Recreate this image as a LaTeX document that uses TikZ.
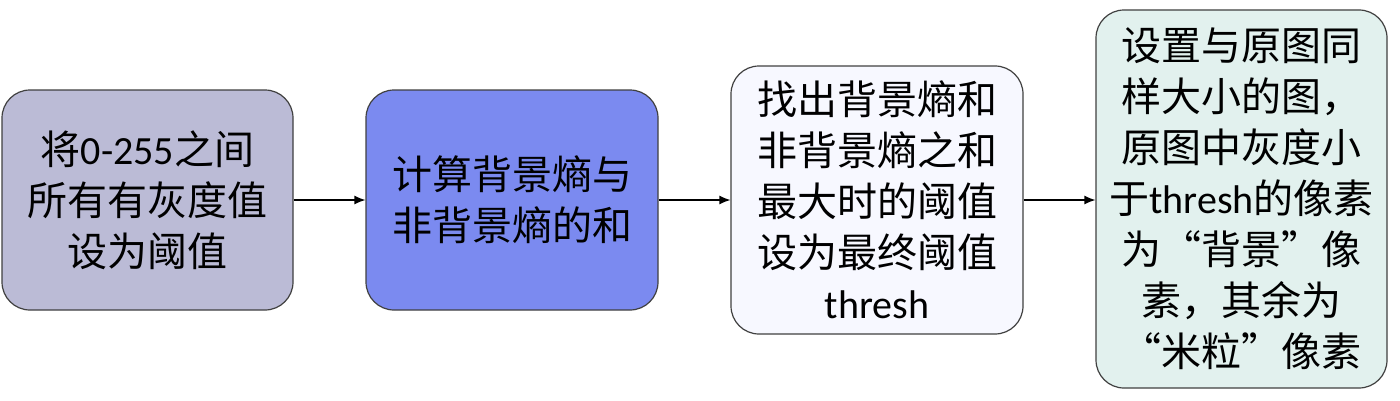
\documentclass[tikz,border=0pt]{standalone}
\usepackage{fontspec}
\setmainfont{Carlito}
\newfontfamily\cjk{Noto Sans CJK SC}
\usetikzlibrary{arrows.meta}
\newcommand{\lat}[1]{{\rmfamily #1}}
\definecolor{cA}{HTML}{BBBBD6}
\definecolor{cB}{HTML}{7B8AF0}
\definecolor{cC}{HTML}{F7F8FF}
\definecolor{cD}{HTML}{E2F1EE}
\definecolor{edge}{HTML}{404040}
\tikzset{
  stepbox/.style={draw=edge, line width=1.2pt, rounded corners=28pt, align=center,
    inner sep=0pt, font=\fontsize{40}{51}\selectfont\cjk},
  conn/.style={-{Latex[length=11pt,width=9pt]}, line width=1.2pt, black}
}
\begin{document}
\begin{tikzpicture}[x=1pt,y=1pt]
\useasboundingbox (0,0) rectangle (1400,400);
\node[stepbox, fill=cA, minimum width=291pt, minimum height=220pt] (a) at (147.5,200)
  {将\lat{0-255}之间\\所有有灰度值\\设为阈值};
\node[stepbox, fill=cB, minimum width=292pt, minimum height=220pt] (b) at (512,200)
  {计算背景熵与\\非背景熵的和};
\node[stepbox, fill=cC, minimum width=292pt, minimum height=268pt] (c) at (877,200)
  {找出背景熵和\\非背景熵之和\\最大时的阈值\\设为最终阈值\\\lat{thresh}};
\node[stepbox, fill=cD, minimum width=291pt, minimum height=378pt] (d) at (1241.5,201)
  {设置与原图同\\样大小的图，\\原图中灰度小\\于\lat{thresh}的像素\\为“背景”像\\素，其余为\\“米粒”像素};
\draw[conn] (a.east) -- (b.west);
\draw[conn] (b.east) -- (c.west);
\draw[conn] (c.east) -- (d.west |- c.east);
\end{tikzpicture}
\end{document}
